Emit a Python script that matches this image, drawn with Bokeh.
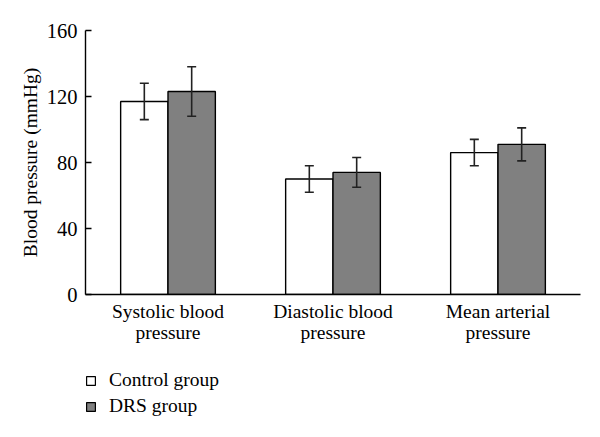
from bokeh.plotting import figure
from bokeh.models import ColumnDataSource, Whisker, Legend, LegendItem, FactorRange
from bokeh.layouts import column
from bokeh.transform import dodge
from bokeh.embed import file_html
from bokeh.resources import INLINE

categories = ["Systolic blood\npressure", "Diastolic blood\npressure", "Mean arterial\npressure"]
control_mean = [117, 70, 86]
control_sd = [11, 8, 8]
drs_mean = [123, 74, 91]
drs_sd = [15, 9, 10]
series_names = ["Control group", "DRS group"]
y_ticks = [0, 40, 80, 120, 160]

FONT = "Liberation Serif"
FS = "19.5px"
BAR_COLORS = ["white", "#808080"]

src = ColumnDataSource(dict(
    cat=categories,
    c=control_mean,
    c_lo=[m - s for m, s in zip(control_mean, control_sd)],
    c_hi=[m + s for m, s in zip(control_mean, control_sd)],
    d=drs_mean,
    d_lo=[m - s for m, s in zip(drs_mean, drs_sd)],
    d_hi=[m + s for m, s in zip(drs_mean, drs_sd)],
))

p = figure(x_range=FactorRange(*categories, range_padding=0), y_range=(0, 160),
           frame_width=495, frame_height=264, output_backend="svg",
           toolbar_location=None, min_border_left=85, min_border_top=30,
           min_border_right=10, min_border_bottom=60)
p.x_range.range_padding = 0

bw = 0.287
r1 = p.vbar(x=dodge("cat", -bw / 2, range=p.x_range), top="c", width=bw, source=src,
            fill_color=BAR_COLORS[0], line_color="black", line_width=1.4)
r2 = p.vbar(x=dodge("cat", bw / 2, range=p.x_range), top="d", width=bw, source=src,
            fill_color=BAR_COLORS[1], line_color="black", line_width=1.4)

for off, lo, hi in [(-bw / 2, "c_lo", "c_hi"), (bw / 2, "d_lo", "d_hi")]:
    w = Whisker(base=dodge("cat", off, range=p.x_range), lower=lo, upper=hi, source=src,
                line_color="#222222", line_width=1.6, level="overlay")
    for head in (w.upper_head, w.lower_head):
        head.size = 9
        head.line_width = 1.6
        head.line_color = "#222222"
    p.add_layout(w)

p.grid.grid_line_color = None
p.outline_line_color = None
p.background_fill_color = "white"

p.yaxis.ticker = y_ticks
p.yaxis.minor_tick_line_color = None
p.yaxis.major_tick_in = 6
p.yaxis.major_tick_out = 0
p.yaxis.axis_line_width = 1.4
p.yaxis.major_tick_line_width = 1.4
p.yaxis.axis_label = "Blood pressure (mmHg)"
p.yaxis.axis_label_text_font = FONT
p.yaxis.axis_label_text_font_style = "normal"
p.yaxis.axis_label_text_font_size = FS
p.yaxis.axis_label_text_color = "black"
p.yaxis.major_label_text_font = FONT
p.yaxis.major_label_text_font_size = "20.5px"
p.yaxis.major_label_text_color = "black"
p.yaxis.major_label_standoff = 8
p.yaxis.axis_label_standoff = 3

p.xaxis.major_tick_line_color = None
p.xaxis.minor_tick_line_color = None
p.xaxis.axis_line_width = 1.4
p.xaxis.major_label_text_font = FONT
p.xaxis.major_label_text_font_size = FS
p.xaxis.major_label_text_color = "black"
p.xaxis.major_label_text_line_height = 1.0
p.xaxis.major_label_standoff = 0

# legend in its own strip below the chart (its sample glyphs sit outside the visible range)
p2 = figure(width=590, height=80, x_range=(0, 1), y_range=(0, 1),
            output_backend="svg", toolbar_location=None,
            x_axis_type=None, y_axis_type=None,
            min_border_left=85, min_border_top=15, min_border_right=0, min_border_bottom=0)
p2.grid.grid_line_color = None
p2.outline_line_color = None
g1 = p2.rect(x=[5], y=[5], width=0.1, height=0.1, fill_color=BAR_COLORS[0],
             line_color="black", line_width=1.2)
g2 = p2.rect(x=[5], y=[5], width=0.1, height=0.1, fill_color=BAR_COLORS[1],
             line_color="black", line_width=1.2)
legend = Legend(items=[LegendItem(label=series_names[0], renderers=[g1]),
                       LegendItem(label=series_names[1], renderers=[g2])],
                location="top_left", orientation="vertical",
                glyph_width=11, glyph_height=11, spacing=4, padding=0,
                margin=0, label_height=21,
                label_text_font=FONT, label_text_font_size=FS,
                label_text_color="black",
                label_standoff=13, border_line_color=None,
                background_fill_alpha=0)
p2.add_layout(legend, "center")

layout = column(p, p2, spacing=0)
html = file_html(layout, INLINE)
open("out.html", "w").write(html)
